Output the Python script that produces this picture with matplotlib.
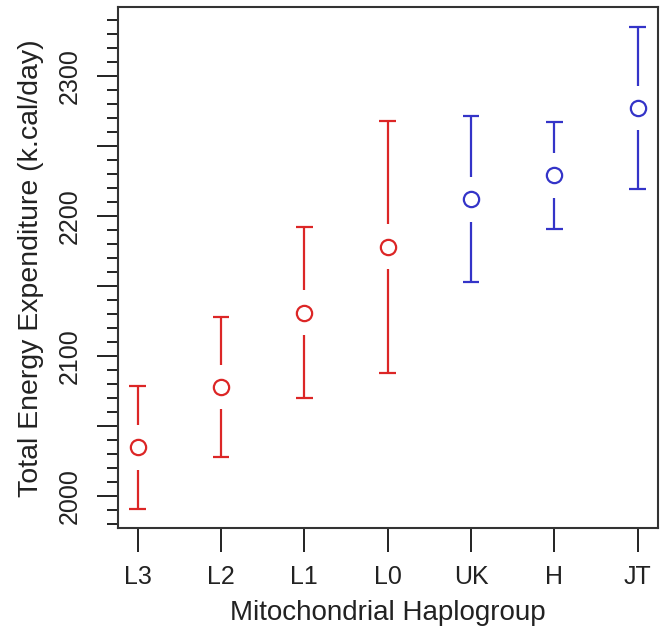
import numpy as np
import matplotlib.pyplot as plt
from matplotlib.ticker import MultipleLocator, FuncFormatter

# Mitochondrial haplogroups and total energy expenditure (k.cal/day), mean and CI
haplogroups = ['L3', 'L2', 'L1', 'L0', 'UK', 'H', 'JT']
tee_mean = [2035, 2078, 2131, 2178, 2212, 2229, 2277]
tee_lower = [1991, 2028, 2070, 2088, 2153, 2191, 2219]
tee_upper = [2079, 2128, 2192, 2268, 2271, 2267, 2335]
african = [True, True, True, True, False, False, False]

RED = '#dc2626'
BLUE = '#3434c8'

plt.rcParams['font.family'] = ['Liberation Sans', 'DejaVu Sans']

fig = plt.figure(figsize=(6.7, 6.36), dpi=100)
ax = fig.add_axes([0.1757, 0.1693, 0.8059, 0.8192])

x = np.arange(1, len(haplogroups) + 1)
gap = 16      # gap around the point, in data units (like plotCI)
cap = 0.10    # half width of the caps

for xi, m, lo, hi, afr in zip(x, tee_mean, tee_lower, tee_upper, african):
    col = RED if afr else BLUE
    ax.vlines(xi, m + gap, hi, color=col, lw=1.6)
    ax.vlines(xi, lo, m - gap, color=col, lw=1.6)
    ax.hlines([lo, hi], xi - cap, xi + cap, color=col, lw=1.6)
    ax.plot(xi, m, 'o', mfc='none', mec=col, mew=1.6, ms=11)

# R style axis extension of 4%
lo_all, hi_all = min(tee_lower), max(tee_upper)
d = 0.04 * (hi_all - lo_all)
ax.set_ylim(lo_all - d, hi_all + d)
ax.set_xlim(1 - 0.04 * (len(x) - 1), len(x) + 0.04 * (len(x) - 1))

ax.set_xticks(x)
ax.set_xticklabels(haplogroups)
ax.yaxis.set_major_locator(MultipleLocator(50))
ax.yaxis.set_minor_locator(MultipleLocator(10))
ax.yaxis.set_major_formatter(FuncFormatter(lambda v, p: f'{v:.0f}' if v % 100 == 0 else ''))

ax.tick_params(axis='x', length=17, width=1.4, pad=9.5, labelsize=18, colors='#222222')
ax.tick_params(axis='y', which='major', length=15, width=1.4, pad=11, labelsize=18,
               colors='#222222')
ax.tick_params(axis='y', which='minor', length=8, width=1.4, colors='#222222')
for lab in ax.get_yticklabels():
    lab.set_rotation(90)
    lab.set_va('center')

for s in ax.spines.values():
    s.set_linewidth(1.5)
    s.set_color('#333333')

ax.set_xlabel('Mitochondrial Haplogroup', fontsize=20, color='#222222', labelpad=8)
ax.set_ylabel('Total Energy Expenditure (k.cal/day)', fontsize=20.5, color='#222222',
              labelpad=10)

fig.savefig('out.png', dpi=100)
